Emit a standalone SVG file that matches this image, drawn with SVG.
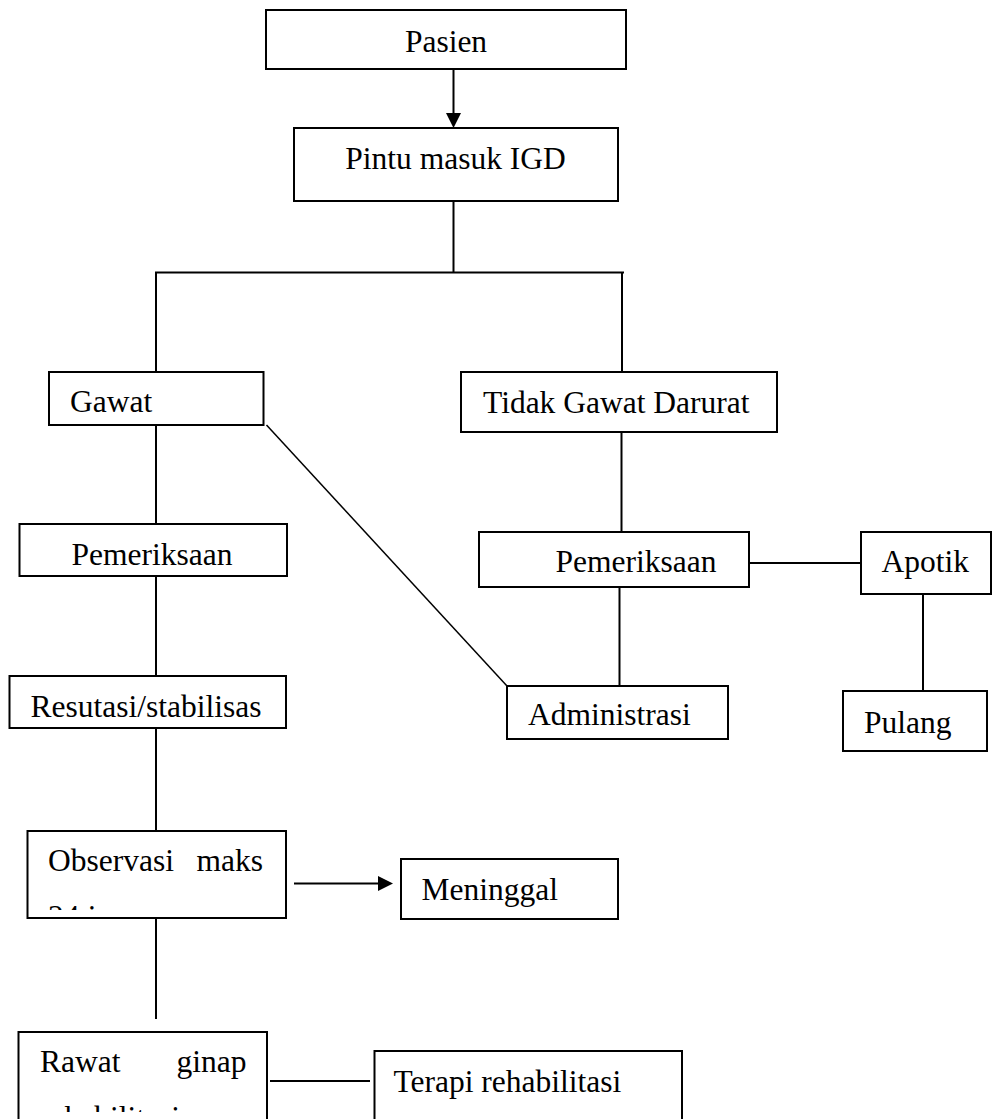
<svg xmlns="http://www.w3.org/2000/svg" width="992" height="1119" viewBox="0 0 992 1119">
  <style>
    .box { fill: #ffffff; stroke: #000000; stroke-width: 2; }
    .lbl { font-family: "Liberation Serif", "Times New Roman", serif; font-size: 31.5px; fill: #000000; }
    .link { stroke: #000000; stroke-width: 2; fill: none; }
    .thin { stroke-width: 1.5; }
  </style>
  <defs>
    <marker id="arrow" markerUnits="userSpaceOnUse" markerWidth="16" markerHeight="16" refX="0" refY="7.5" orient="auto">
      <path d="M0,0 L15,7.5 L0,15 Z" fill="#000000"/>
    </marker>
    <!-- second text lines run past the bottom of their boxes and are cut off -->
    <clipPath id="clipObservasi"><rect x="28" y="832" width="257" height="78"/></clipPath>
    <clipPath id="clipRawat"><rect x="19" y="1033" width="247" height="79"/></clipPath>
  </defs>

  <!-- connectors -->
  <g id="connectors">
    <line class="link" x1="453.5" y1="69" x2="453.5" y2="113" marker-end="url(#arrow)"/>
    <line class="link" x1="453.5" y1="201" x2="453.5" y2="272.5"/>
    <line class="link" x1="155" y1="272.5" x2="624" y2="272.5"/>
    <line class="link" x1="156" y1="272" x2="156" y2="372"/>
    <line class="link" x1="622" y1="272" x2="622" y2="372"/>
    <line class="link" x1="156" y1="425" x2="156" y2="524"/>
    <line class="link thin" x1="266.5" y1="425" x2="507" y2="686"/>
    <line class="link" x1="156" y1="576" x2="156" y2="676"/>
    <line class="link" x1="156" y1="728" x2="156" y2="831"/>
    <line class="link" x1="156" y1="918" x2="156" y2="1019"/>
    <line class="link" x1="621.5" y1="432" x2="621.5" y2="532"/>
    <line class="link" x1="619.5" y1="587" x2="619.5" y2="686"/>
    <line class="link" x1="749" y1="563" x2="861" y2="563"/>
    <line class="link" x1="923" y1="594" x2="923" y2="693"/>
    <line class="link" x1="294" y1="883.5" x2="378" y2="883.5" marker-end="url(#arrow)"/>
    <line class="link" x1="270" y1="1081" x2="370" y2="1081"/>
  </g>

  <g id="node-pasien">
    <rect class="box" x="266" y="10" width="360" height="59"/>
    <text class="lbl" x="446" y="51.5" text-anchor="middle">Pasien</text>
  </g>

  <g id="node-pintu-masuk">
    <rect class="box" x="294" y="128" width="324" height="73"/>
    <text class="lbl" x="455.5" y="168.5" text-anchor="middle">Pintu masuk IGD</text>
  </g>

  <g id="node-gawat">
    <rect class="box" x="49" y="372" width="214.5" height="53"/>
    <text class="lbl" x="70" y="411.5">Gawat</text>
  </g>

  <g id="node-tidak-gawat">
    <rect class="box" x="461" y="372" width="316" height="60"/>
    <text class="lbl" x="483" y="413">Tidak Gawat Darurat</text>
  </g>

  <g id="node-pemeriksaan-gawat">
    <rect class="box" x="19.5" y="524" width="267.5" height="52"/>
    <text class="lbl" x="71.5" y="565">Pemeriksaan</text>
  </g>

  <g id="node-pemeriksaan-tidak-gawat">
    <rect class="box" x="479" y="532" width="270" height="55"/>
    <text class="lbl" x="555.5" y="572">Pemeriksaan</text>
  </g>

  <g id="node-apotik">
    <rect class="box" x="861" y="532" width="130" height="62"/>
    <text class="lbl" x="881.5" y="571.5">Apotik</text>
  </g>

  <g id="node-administrasi">
    <rect class="box" x="507" y="686" width="221" height="53"/>
    <text class="lbl" x="528" y="725">Administrasi</text>
  </g>

  <g id="node-pulang">
    <rect class="box" x="843" y="691" width="144" height="60"/>
    <text class="lbl" x="864" y="732.5">Pulang</text>
  </g>

  <g id="node-resutasi">
    <rect class="box" x="9.5" y="676" width="276.5" height="52"/>
    <text class="lbl" x="30.5" y="716.5">Resutasi/stabilisas</text>
  </g>

  <g id="node-observasi">
    <rect class="box" x="27.5" y="831" width="258.5" height="87"/>
    <text class="lbl" y="870.5"><tspan x="48">Observasi</tspan><tspan x="263" text-anchor="end">maks</tspan></text>
    <text class="lbl" x="48" y="927" clip-path="url(#clipObservasi)">24 jam</text>
  </g>

  <g id="node-meninggal">
    <rect class="box" x="401" y="859" width="217" height="60"/>
    <text class="lbl" x="421.5" y="900">Meninggal</text>
  </g>

  <g id="node-rawat-ginap">
    <rect class="box" x="18.5" y="1032" width="248.5" height="100"/>
    <text class="lbl" y="1071.5"><tspan x="40">Rawat</tspan><tspan x="246.5" text-anchor="end">ginap</tspan></text>
    <text class="lbl" x="40" y="1128" clip-path="url(#clipRawat)">rehabilitasi</text>
  </g>

  <g id="node-terapi">
    <rect class="box" x="374.5" y="1051" width="307.5" height="90"/>
    <text class="lbl" x="393.5" y="1091.5">Terapi rehabilitasi</text>
  </g>
</svg>
